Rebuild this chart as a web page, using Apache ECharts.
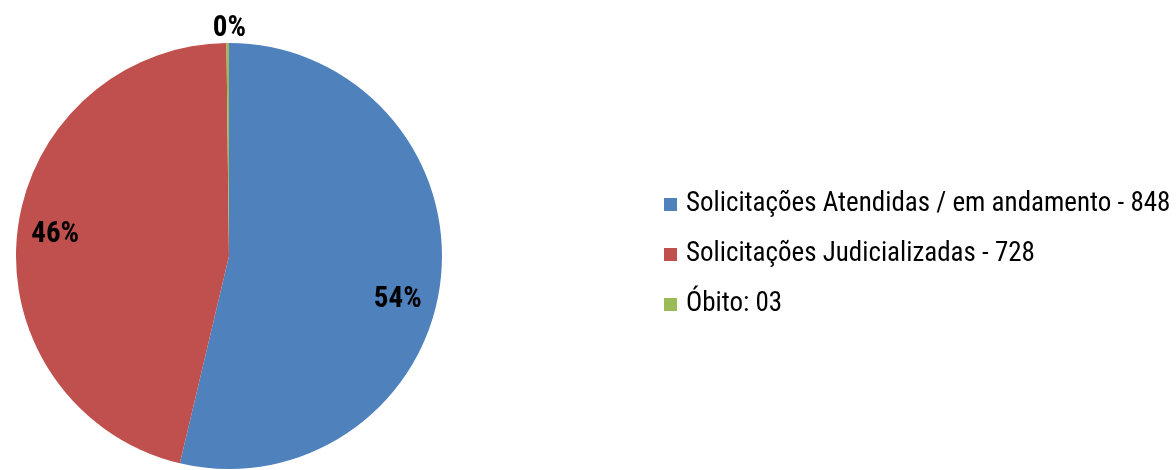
<!DOCTYPE html>
<html><head><meta charset="utf-8">
<script src="https://cdn.jsdelivr.net/npm/echarts@6/dist/echarts.min.js"></script>
<style>html,body{margin:0;padding:0;background:#fff}#c{width:1176px;height:470px}</style>
</head><body><div id="c"></div>
<script>
const categories = ['Solicitações Atendidas / em andamento - 848', 'Solicitações Judicializadas - 728', 'Óbito: 03'];
const values = [848, 728, 3];
const colors = ['#4F81BD', '#C0504D', '#9BBB59'];
const labelOffsets = [[60, 31], [-65, -9], [1, -118]];

const FONT = '"Roboto Condensed", "Liberation Sans Narrow", "Arial Narrow", sans-serif';
const chart = echarts.init(document.getElementById('c'), null, {renderer: 'canvas'});
chart.setOption({
  animation: false,
  color: colors,
  legend: {
    orient: 'vertical', left: 659, top: 186,
    itemWidth: 13, itemHeight: 13, itemGap: 23,
    icon: 'rect',
    textStyle: {fontFamily: FONT, fontSize: 27, color: '#000', padding: [0,0,0,4]},
    data: categories
  },
  series: [{
    type: 'pie',
    center: [229, 256], radius: 213,
    startAngle: 90, clockwise: true,
    avoidLabelOverlap: false,
    itemStyle: {borderWidth: 0},
    label: {
      position: 'inside',
      formatter: p => Math.round(p.percent) + '%',
      fontFamily: FONT, fontSize: 29, fontWeight: 'bold', color: '#000'
    },
    labelLine: {show: false},
    emphasis: {disabled: true},
    data: categories.map((n, i) => ({name: n, value: values[i], label: {offset: labelOffsets[i]}}))
  }]
});
</script></body></html>
